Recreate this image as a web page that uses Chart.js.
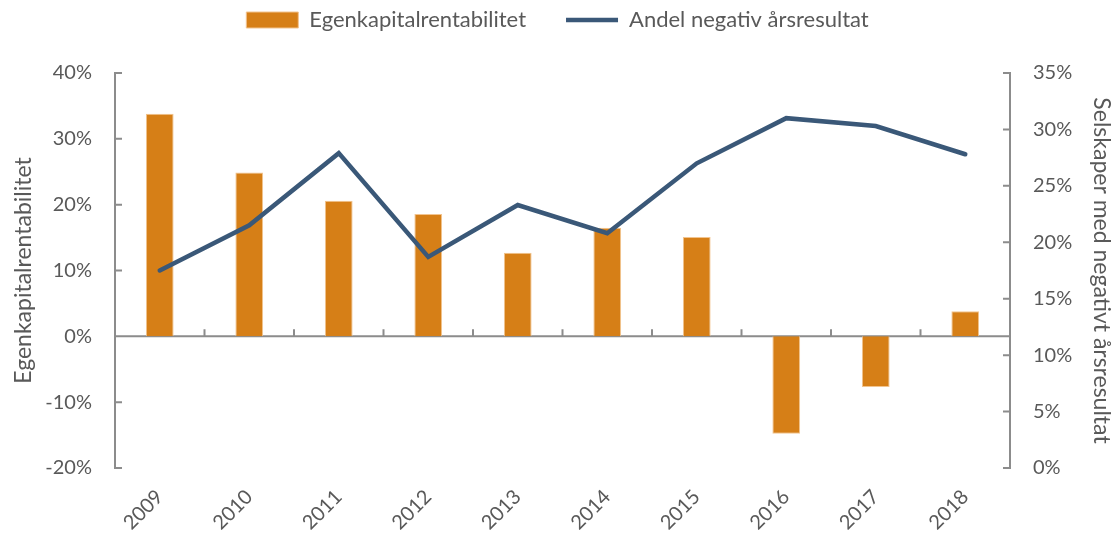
<!DOCTYPE html>
<html lang="no">
<head>
  <meta charset="UTF-8">
  <title>Egenkapitalrentabilitet og andel negativ årsresultat</title>
  <script src="https://cdn.jsdelivr.net/npm/chart.js@4"></script>
  <style>
    body { margin: 0; background: #fff; }
    .wrap { width: 1115px; height: 538px; }
  </style>
</head>
<body>
  <div class="wrap"><canvas id="chart"></canvas></div>

  <script>
    const years = ['2009', '2010', '2011', '2012', '2013', '2014', '2015', '2016', '2017', '2018'];
    const roe = [33.8, 24.9, 20.6, 18.6, 12.7, 16.5, 15.1, -14.8, -7.7, 3.8];
    const negShare = [17.5, 21.5, 27.9, 18.7, 23.3, 20.8, 27.0, 31.0, 30.3, 27.8];

    const grey = '#8c8c8c';
    const textGrey = '#595959';
    const font = { family: 'Lato, "Open Sans", sans-serif', size: 20 };
    const titleFont = { family: 'Lato, "Open Sans", sans-serif', size: 23 };

    // inward tick marks, 0-line and category ticks like the original
    const axisMarks = {
      id: 'axisMarks',
      beforeDatasetsDraw(chart) {
        const { ctx, chartArea: a, scales: { x, y, y1 } } = chart;
        ctx.save();
        ctx.strokeStyle = grey;
        ctx.lineWidth = 2;
        ctx.beginPath();
        const y0 = y.getPixelForValue(0);
        ctx.moveTo(a.left, y0);
        ctx.lineTo(a.right, y0);
        for (let i = 1; i < years.length; i++) {
          const px = (x.getPixelForValue(i - 1) + x.getPixelForValue(i)) / 2;
          ctx.moveTo(px, y0);
          ctx.lineTo(px, y0 - 7);
        }
        y.ticks.forEach(t => {
          const py = y.getPixelForValue(t.value);
          ctx.moveTo(a.left, py);
          ctx.lineTo(a.left + 7, py);
        });
        y1.ticks.forEach(t => {
          const py = y1.getPixelForValue(t.value);
          ctx.moveTo(a.right, py);
          ctx.lineTo(a.right - 7, py);
        });
        ctx.stroke();
        ctx.restore();
      }
    };

    new Chart(document.getElementById('chart'), {
      data: {
        labels: years,
        datasets: [
          {
            type: 'line',
            label: 'Andel negativ årsresultat',
            data: negShare,
            yAxisID: 'y1',
            borderColor: '#3a5878',
            backgroundColor: '#3a5878',
            borderWidth: 4.5,
            borderCapStyle: 'round',
            pointRadius: 0,
            pointStyle: 'line',
            tension: 0,
            order: 1
          },
          {
            type: 'bar',
            label: 'Egenkapitalrentabilitet',
            data: roe,
            yAxisID: 'y',
            backgroundColor: '#d67f17',
            borderColor: '#f2c48f',
            borderWidth: 1,
            pointStyle: 'rect',
            categoryPercentage: 1,
            barPercentage: 0.31,
            order: 2
          }
        ]
      },
      options: {
        responsive: true,
        maintainAspectRatio: false,
        animation: false,
        layout: { padding: { top: -31, left: 0, right: 0, bottom: 0 } },
        plugins: {
          legend: {
            position: 'top',
            reverse: true,
            labels: {
              usePointStyle: true,
              pointStyleWidth: 52,
              boxHeight: 16,
              padding: 40,
              color: textGrey,
              font: { family: font.family, size: 22 }
            }
          },
          // empty title under the legend, used only as spacing
          title: {
            display: true,
            text: '',
            weight: 500,
            font: { size: 10 },
            padding: { top: 0, bottom: 20 }
          },
          tooltip: { enabled: false }
        },
        scales: {
          x: {
            offset: true,
            grid: { display: false, drawTicks: false },
            border: { display: false },
            ticks: { color: textGrey, font: font, minRotation: 45, maxRotation: 45, padding: 17 },
            afterFit: s => { s.height = 70; }
          },
          y: {
            position: 'left',
            min: -20, max: 40,
            grid: { display: false, drawTicks: false },
            border: { color: grey, width: 2 },
            ticks: { stepSize: 10, color: textGrey, font: font, padding: 23, callback: v => v + '%' },
            title: { display: true, text: 'Egenkapitalrentabilitet', color: textGrey, font: titleFont, padding: { top: 10, bottom: 0 } },
            afterFit: s => { s.width = 115; }
          },
          y1: {
            position: 'right',
            min: 0, max: 35,
            grid: { display: false, drawTicks: false },
            border: { color: grey, width: 2 },
            ticks: { stepSize: 5, color: textGrey, font: font, padding: 23, callback: v => v + '%' },
            title: { display: true, text: 'Selskaper med negativt årsresultat', color: textGrey, font: titleFont, padding: 0 },
            afterFit: s => { s.width = 105; }
          }
        }
      },
      plugins: [axisMarks]
    });
  </script>
</body>
</html>
